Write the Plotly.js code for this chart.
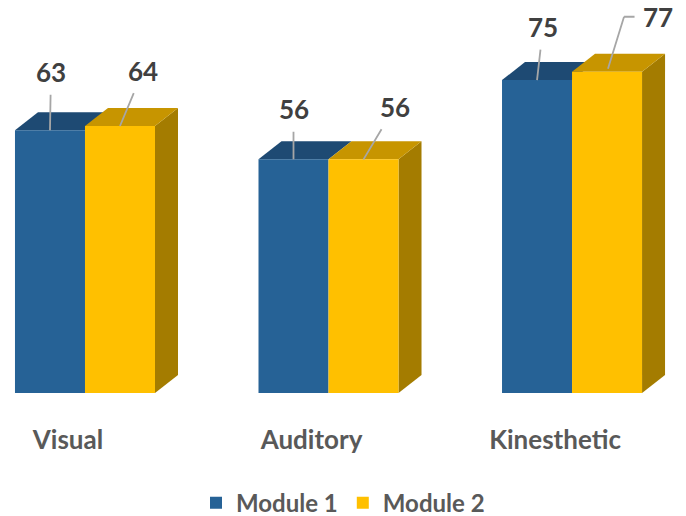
<!DOCTYPE html>
<html>
<head>
<meta charset="utf-8">
<script src="https://cdn.plot.ly/plotly-3.0.1.min.js"></script>
<style>html,body{margin:0;padding:0;background:#fff;}#chart{width:686px;height:516px;}</style>
</head>
<body>
<div id="chart"></div>
<script>
const categories = ['Visual', 'Auditory', 'Kinesthetic'];
const module1 = [63, 56, 75];
const module2 = [64, 56, 77];
const seriesNames = ['Module 1', 'Module 2'];

// label leader-line offsets (pixels, from bar top to label centre)
const labelAx1 = [1, 0, 6];
const labelAy1 = [-58, -50, -53];
const labelAx2 = [23, 31, 34];   // last one: from the elbow to the label
const labelAy2 = [-55, -52, -55];
const elbowDx = 17;              // last label: horizontal offset of the elbow

const W = 686, H = 516;
const M = {l: 0, r: 0, t: 0, b: 123, autoexpand: false};
const xRange = [-0.349, 2.468];
const yRange = [0, 94.2];
const bargap = 0.425;
const depthPx = {x: 23, y: 18};

const colors = {
  blueFront: '#266296', blueTop: '#1E4A73',
  yelFront: '#FFC000', yelTop: '#C79500', yelSide: '#A47C00'
};

const plotW = W - M.l - M.r, plotH = H - M.t - M.b;
const dx = depthPx.x * (xRange[1] - xRange[0]) / plotW;
const dy = depthPx.y * (yRange[1] - yRange[0]) / plotH;
const barW = (1 - bargap) / 2;
const xs = categories.map((c, i) => i);

function poly(pts) {
  return 'M' + pts.map(p => p[0] + ',' + p[1]).join('L') + 'Z';
}
const shapes = [];
xs.forEach((x, i) => {
  const b0 = x - barW, b1 = x, y1 = x + barW;
  const v1 = module1[i], v2 = module2[i];
  shapes.push({type: 'path', layer: 'below', line: {width: 0}, fillcolor: colors.blueTop,
    path: poly([[b0, v1], [b1, v1], [b1 + dx, v1 + dy], [b0 + dx, v1 + dy]])});
  shapes.push({type: 'path', layer: 'below', line: {width: 0}, fillcolor: colors.yelSide,
    path: poly([[y1, 0], [y1 + dx, dy], [y1 + dx, v2 + dy], [y1, v2]])});
  shapes.push({type: 'path', layer: 'below', line: {width: 0}, fillcolor: colors.yelTop,
    path: poly([[b1, v2], [y1, v2], [y1 + dx, v2 + dy], [b1 + dx, v2 + dy]])});
});

const labelFont = {family: 'Lato, sans-serif', size: 26, color: '#404040', weight: 'bold'};
const lineStyle = {showarrow: true, arrowhead: 0, arrowwidth: 1.8, arrowcolor: '#A6A6A6', startstandoff: 5};
const annotations = [];
xs.forEach((x, i) => {
  annotations.push(Object.assign({x: x - barW / 2, y: module1[i], xref: 'x', yref: 'y',
    text: String(module1[i]), font: labelFont, ax: labelAx1[i], ay: labelAy1[i]}, lineStyle));
  if (i < 2) {
    annotations.push(Object.assign({x: x + barW / 2, y: module2[i], xref: 'x', yref: 'y',
      text: String(module2[i]), font: labelFont, ax: labelAx2[i], ay: labelAy2[i]}, lineStyle));
  } else {
    // elbow leader line: diagonal part (drawn from the elbow back to the bar top) ...
    annotations.push(Object.assign({x: x + barW / 2, y: module2[i], xref: 'x', yref: 'y',
      xshift: elbowDx, yshift: -labelAy2[i], text: ' ', font: {size: 2},
      ax: -elbowDx, ay: -labelAy2[i]}, lineStyle, {startstandoff: 0}));
    // ... then the horizontal part ending at the label
    annotations.push(Object.assign({x: x + barW / 2, y: module2[i], xref: 'x', yref: 'y',
      xshift: elbowDx, yshift: -labelAy2[i], text: String(module2[i]), font: labelFont,
      ax: labelAx2[i], ay: 0}, lineStyle, {startstandoff: 7}));
  }
});

const traces = [
  {type: 'bar', name: seriesNames[0], x: xs, y: module1, marker: {color: colors.blueFront, line: {width: 0}}, hoverinfo: 'none'},
  {type: 'bar', name: seriesNames[1], x: xs, y: module2, marker: {color: colors.yelFront, line: {width: 0}}, hoverinfo: 'none'}
];

const layout = {
  width: W, height: H, margin: M,
  paper_bgcolor: '#fff', plot_bgcolor: '#fff',
  barmode: 'group', bargap: bargap, bargroupgap: 0,
  xaxis: {range: xRange, tickvals: xs, ticktext: categories, showgrid: false, zeroline: false, showline: false,
    ticks: '', ticklabelstandoff: 29, ticklabelshift: -17, automargin: false,
    tickfont: {family: 'Lato, sans-serif', size: 26, color: '#595959', weight: 'bold'}},
  yaxis: {range: yRange, visible: false, showgrid: false, zeroline: false},
  showlegend: true,
  legend: {orientation: 'h', x: 0.5, xanchor: 'center', y: -0.28, yanchor: 'middle', itemwidth: 30,
    font: {family: 'Lato, sans-serif', size: 24, color: '#595959', weight: 'bold'}},
  shapes: shapes,
  annotations: annotations
};

Plotly.newPlot('chart', traces, layout, {staticPlot: true, displayModeBar: false});
</script>
</body>
</html>
